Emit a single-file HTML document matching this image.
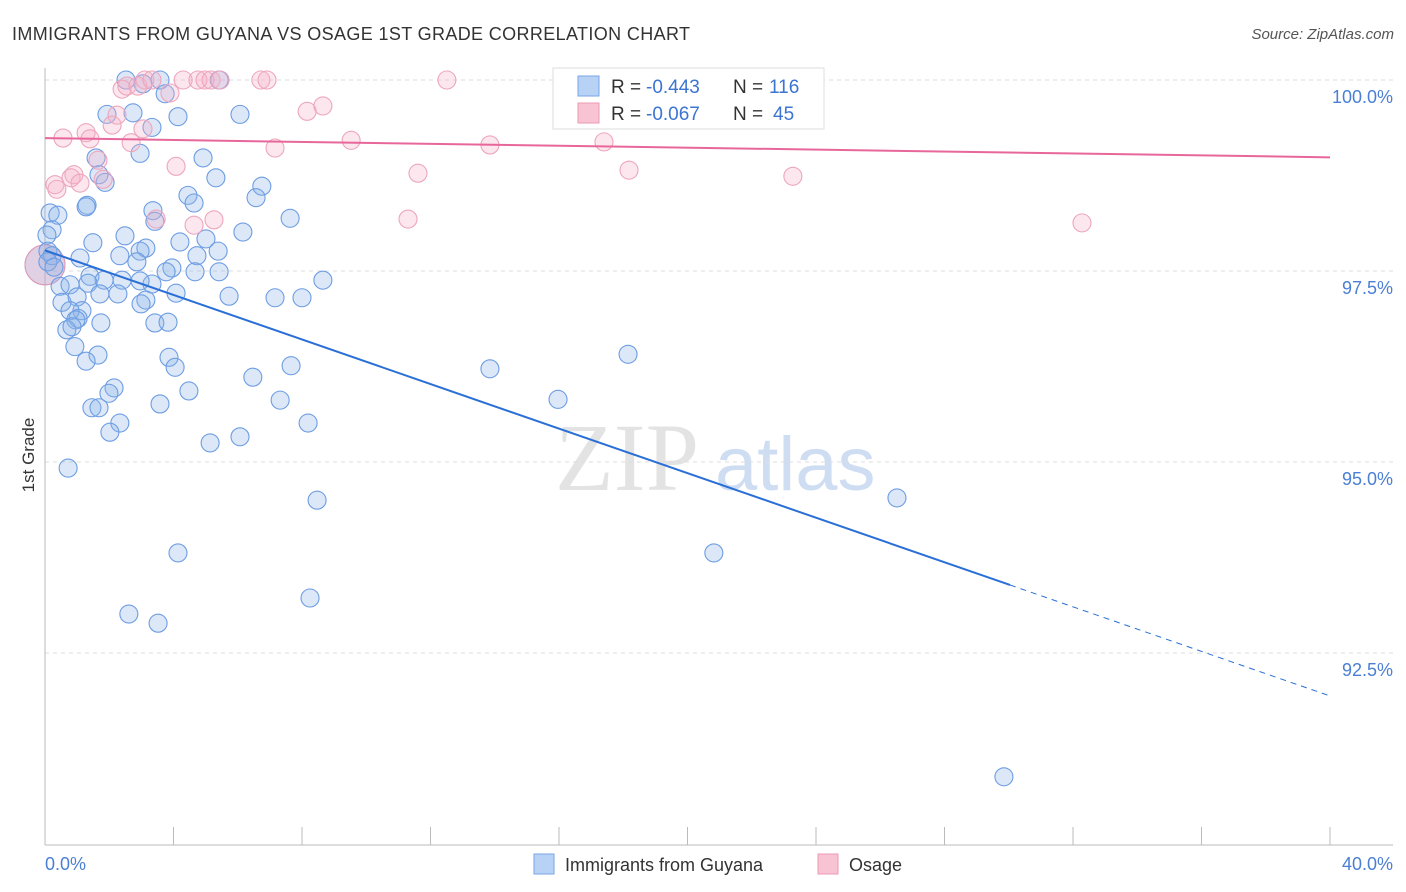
<!DOCTYPE html>
<html><head><meta charset="utf-8"><style>
body{margin:0;background:#fff;font-family:"Liberation Sans",sans-serif;}
svg{display:block}
</style></head><body>
<svg id="c" width="1406" height="892" xmlns="http://www.w3.org/2000/svg">
<text x="12" y="40" font-size="18" fill="#333" textLength="678">IMMIGRANTS FROM GUYANA VS OSAGE 1ST GRADE CORRELATION CHART</text>
<text x="1394" y="39" font-size="15" fill="#555" font-style="italic" text-anchor="end">Source: ZipAtlas.com</text>
<g>
<text x="555" y="490" font-size="96" font-family="Liberation Serif,serif" fill="#d8d8d8" opacity="0.7">ZIP</text>
<text x="715" y="490" font-size="76" fill="#bcd0ee" opacity="0.7">atlas</text>
</g>
<g id="grid"></g>
<g id="axes"></g>
<g id="pts"></g>
<g id="trend"></g>
<text transform="translate(34,455) rotate(-90)" font-size="17" fill="#333" text-anchor="middle">1st Grade</text>
<g>
<rect x="553" y="68" width="271" height="61" fill="#fff" stroke="#ddd"/>
<rect x="578" y="76" width="21" height="20" fill="#b8d2f5" stroke="#7aa6e6"/>
<text x="611" y="93" font-size="19" fill="#333">R =</text>
<text x="646" y="93" font-size="19" fill="#3b74d1">-0.443</text>
<text x="733" y="93" font-size="19" fill="#333">N =</text>
<text x="769" y="93" font-size="19" fill="#3b74d1">116</text>
<rect x="578" y="103" width="21" height="20" fill="#f8c4d3" stroke="#ec9ab4"/>
<text x="611" y="120" font-size="19" fill="#333">R =</text>
<text x="646" y="120" font-size="19" fill="#3b74d1">-0.067</text>
<text x="733" y="120" font-size="19" fill="#333">N =</text>
<text x="773" y="120" font-size="19" fill="#3b74d1">45</text>
</g>
<g>
<rect x="534" y="854" width="20" height="20" fill="#b8d2f5" stroke="#7aa6e6"/>
<text x="565" y="871" font-size="18" fill="#333">Immigrants from Guyana</text>
<rect x="818" y="854" width="20" height="20" fill="#f8c4d3" stroke="#ec9ab4"/>
<text x="849" y="871" font-size="18" fill="#333">Osage</text>
</g>
</svg>
<script>
const yTicks=[100,97.5,95,92.5];
const yTickLabels=["100.0%","97.5%","95.0%","92.5%"];
const xTickLabels=["0.0%","40.0%"];
const blueX=[2.52,3.58,5.42,3.05,3.74,1.93,2.74,4.14,6.07,3.33,2.96,4.92,1.59,1.68,1.87,5.32,6.75,4.45,6.57,4.64,1.31,1.28,3.36,3.42,7.63,0.16,0.40,0.22,0.06,6.16,2.49,1.49,4.20,5.01,3.14,2.96,5.39,4.73,0.09,0.22,1.09,2.33,2.86,3.95,0.09,0.28,3.77,4.67,5.42,1.40,2.40,1.84,3.33,0.47,1.34,2.96,0.78,8.65,0.53,1.00,1.71,2.27,3.14,2.99,4.08,5.73,7.16,8.00,1.15,0.78,1.03,0.96,1.74,3.42,3.83,0.68,0.84,0.93,1.65,1.28,3.86,4.05,7.66,6.47,13.85,18.15,2.15,1.99,4.48,3.58,7.32,15.97,1.46,1.68,2.33,2.02,8.19,6.07,5.14,0.72,8.47,26.52,4.14,20.82,2.61,3.52,8.25,29.85];
const blueY=[100,100,100,99.95,99.82,99.55,99.57,99.52,99.55,99.38,99.04,98.98,98.98,98.76,98.66,98.72,98.61,98.49,98.46,98.39,98.36,98.34,98.29,98.15,98.19,98.26,98.23,98.04,97.97,98.01,97.96,97.87,97.88,97.92,97.80,97.76,97.76,97.70,97.76,97.70,97.67,97.70,97.62,97.54,97.62,97.55,97.49,97.49,97.49,97.43,97.38,97.38,97.33,97.30,97.34,97.37,97.32,97.38,97.09,97.16,97.20,97.20,97.12,97.07,97.21,97.17,97.15,97.15,96.98,96.98,96.88,96.86,96.82,96.82,96.83,96.73,96.77,96.51,96.40,96.32,96.37,96.24,96.26,96.11,96.22,96.41,95.97,95.90,95.93,95.76,95.81,95.82,95.71,95.71,95.51,95.39,95.51,95.33,95.25,94.92,94.50,94.53,93.81,93.81,93.01,92.89,93.22,90.88];
const pinkX=[2.40,2.55,2.89,3.11,3.33,3.89,4.30,4.76,4.98,5.17,5.45,6.72,6.91,12.51,8.65,8.16,2.09,2.24,3.05,0.56,1.28,1.40,2.68,7.16,9.53,13.85,17.40,0.31,0.37,0.81,0.90,1.09,1.65,1.81,4.08,11.61,18.18,23.28,3.46,4.64,5.26,11.30,32.28];
const pinkY=[99.88,99.92,99.92,100,100,99.83,100,100,100,100,100,100,100,100,99.66,99.59,99.41,99.54,99.36,99.24,99.31,99.23,99.18,99.11,99.21,99.15,99.19,98.63,98.57,98.72,98.76,98.65,98.95,98.70,98.87,98.78,98.82,98.74,98.18,98.10,98.17,98.18,98.13];
const bigX=[0,0];
const bigY=[97.58,97.58];
const blueTrend=[97.77,-0.1458];
const pinkTrend=[99.24,-0.0063];
const blueSolidEnd=30.04;

const X0=45,X1=1330,Y100=80,PX=76.4;
const sx=v=>X0+v*(X1-X0)/40;
const sy=v=>Y100+(100-v)*PX;
const NS="http://www.w3.org/2000/svg";
function mk(t,a,p){const e=document.createElementNS(NS,t);for(const k in a)e.setAttribute(k,a[k]);p.appendChild(e);return e;}
const grid=document.getElementById('grid'),axes=document.getElementById('axes'),pts=document.getElementById('pts'),trend=document.getElementById('trend');
yTicks.forEach((v,i)=>{
 const l=mk('line',{x1:45,x2:1393,y1:sy(v),y2:sy(v),stroke:'#ddd','stroke-dasharray':'4,4'},grid);
 
 
 const t=mk('text',{x:1393,y:sy(v)+23,'font-size':18,fill:'#4a7fd4','text-anchor':'end'},axes);
 t.textContent=yTickLabels[i];
 
 
});
mk('line',{x1:45,x2:45,y1:68,y2:845,stroke:'#bbb'},axes);
mk('line',{x1:45,x2:1393,y1:845,y2:845,stroke:'#bbb'},axes);
for(let i=1;i<=10;i++){const x=sx(i*4);const tk=mk('line',{x1:x,x2:x,y1:827,y2:845,stroke:'#bbb'},axes);
 
 }
const xl0=mk('text',{x:45,y:870,'font-size':18,fill:'#4a7fd4'},axes);xl0.textContent=xTickLabels[0];


const xl1=mk('text',{x:1393,y:870,'font-size':18,fill:'#4a7fd4','text-anchor':'end'},axes);xl1.textContent=xTickLabels[1];


bigX.forEach((v,i)=>{const c=mk('circle',{cx:sx(v),cy:sy(bigY[i]),r:20,fill:i?'rgba(240,160,185,0.3)':'rgba(130,170,230,0.3)',stroke:i?'#e89ab3':'#6b9be2','stroke-width':1},pts);
 
 });
blueX.forEach((v,i)=>{const c=mk('circle',{cx:sx(v),cy:sy(blueY[i]),r:9,fill:'rgba(140,178,232,0.3)',stroke:'#6d9de3','stroke-width':1.1},pts);
 
 });
pinkX.forEach((v,i)=>{const c=mk('circle',{cx:sx(v),cy:sy(pinkY[i]),r:9,fill:'rgba(245,175,198,0.3)',stroke:'#eda6bd','stroke-width':1.1},pts);
 
 });
const bf=x=>blueTrend[0]+blueTrend[1]*x, pf=x=>pinkTrend[0]+pinkTrend[1]*x;
const b1=mk('line',{x1:sx(0),y1:sy(bf(0)),x2:sx(blueSolidEnd),y2:sy(bf(blueSolidEnd)),stroke:'#2a6fd6','stroke-width':2},trend);


const b2=mk('line',{x1:sx(blueSolidEnd),y1:sy(bf(blueSolidEnd)),x2:sx(40),y2:sy(bf(40)),stroke:'#2a6fd6','stroke-width':1,'stroke-dasharray':'6,5'},trend);


const p1=mk('line',{x1:sx(0),y1:sy(pf(0)),x2:sx(40),y2:sy(pf(40)),stroke:'#e8679a','stroke-width':2},trend);


</script>
</body></html>
